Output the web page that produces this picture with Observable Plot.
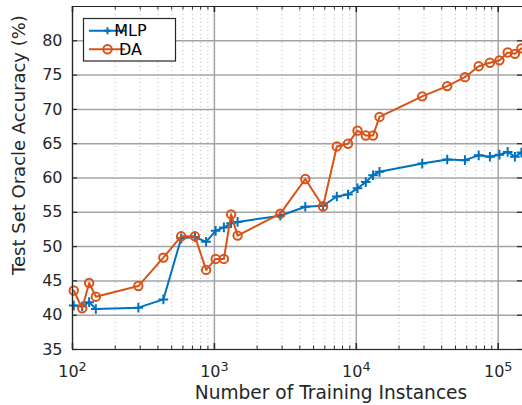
<!DOCTYPE html>
<html><head><meta charset="utf-8">
<script src="https://cdn.jsdelivr.net/npm/d3@7"></script>
<script src="https://cdn.jsdelivr.net/npm/@observablehq/plot@0.6"></script>
<style>
body{margin:0;background:#fff;}
#wrap{position:relative;width:522px;height:405px;overflow:hidden;}
</style></head><body><div id="wrap"></div>
<script>
// ---- data ----
const trainingInstances = [102,117,131,146,291,437,583,729,874,1020,1166,1311,1457,2914,4371,5828,7285,8742,10199,11656,13113,14570,29140,43710,58280,72850,87420,101990,116560,131130,145700];
const mlpAccuracy = [41.4,41.3,41.9,40.9,41.1,42.3,51.2,51.4,50.7,52.3,52.8,53.4,53.6,54.5,55.8,55.95,57.3,57.6,58.5,59.4,60.4,60.9,62.1,62.7,62.6,63.3,63.1,63.4,63.8,63.1,63.7];
const daAccuracy  = [43.6,41.0,44.7,42.7,44.25,48.4,51.5,51.5,46.6,48.2,48.2,54.7,51.6,54.8,59.85,55.85,64.6,65.0,66.9,66.2,66.2,68.9,71.9,73.4,74.7,76.3,76.8,77.15,78.3,78.1,78.9];
const seriesNames = ["MLP","DA"];
const seriesColors = ["#0072BD","#D95319"];
const yTicks = [35,40,45,50,55,60,65,70,75,80];
const xMajorTicks = [100,1000,10000,100000];
const xMinorTicks = [200,300,400,500,600,700,800,900,2000,3000,4000,5000,6000,7000,8000,9000,20000,30000,40000,50000,60000,70000,80000,90000];
const xDomain = [100, 148300];
const yDomain = [35, 85];
const xTitle = "Number of Training Instances";
const yTitle = "Test Set Oracle Accuracy (%)";

// ---- layout ----
const W = 522, H = 405;
const mT = 6, mB = 56, mL = 72, mR = 0;
const plotH = H - mT - mB;
const plotW = W - mL - mR;
const frameColor = "#262626";
const gridColor = "#a4a4a4";

const mlpRows = trainingInstances.map((n, i) => ({n, acc: mlpAccuracy[i], model: seriesNames[0]}));
const daRows  = trainingInstances.map((n, i) => ({n, acc: daAccuracy[i],  model: seriesNames[1]}));

const chart = Plot.plot({
  width: W, height: H,
  marginTop: mT, marginBottom: mB, marginLeft: mL, marginRight: mR,
  style: {fontFamily: "DejaVu Sans", fontSize: "16px", color: frameColor, background: "white", overflow: "hidden"},
  x: {type: "log", domain: xDomain},
  y: {domain: yDomain},
  marks: [
    Plot.gridX(xMinorTicks, {stroke: "#b8b8b8", strokeOpacity: 1, strokeWidth: 1, strokeDasharray: "1,3"}),
    Plot.gridX(xMajorTicks, {stroke: gridColor, strokeOpacity: 1, strokeWidth: 1.5}),
    Plot.gridY(yTicks, {stroke: gridColor, strokeOpacity: 1, strokeWidth: 1.5}),
    Plot.line(mlpRows, {x: "n", y: "acc", stroke: seriesColors[0], strokeWidth: 2}),
    Plot.dot(mlpRows, {x: "n", y: "acc", symbol: "plus", stroke: seriesColors[0], strokeWidth: 2, r: 3.2}),
    Plot.line(daRows, {x: "n", y: "acc", stroke: seriesColors[1], strokeWidth: 2}),
    Plot.dot(daRows, {x: "n", y: "acc", symbol: "circle", fill: "none", stroke: seriesColors[1], strokeWidth: 2, r: 4.2}),
    // box
    Plot.ruleX([xDomain[0]], {stroke: frameColor, strokeWidth: 1.2}),
    Plot.ruleY(yDomain, {stroke: frameColor, strokeWidth: 1.2}),
    // inward ticks
    Plot.tickX(xMajorTicks, {x: d => d, stroke: frameColor, strokeWidth: 1.5, insetTop: plotH - 6}),
    Plot.tickX(xMinorTicks, {x: d => d, stroke: frameColor, strokeWidth: 1, insetTop: plotH - 3.5}),
    Plot.tickX(xMajorTicks, {x: d => d, stroke: frameColor, strokeWidth: 1.5, insetBottom: plotH - 6}),
    Plot.tickX(xMinorTicks, {x: d => d, stroke: frameColor, strokeWidth: 1, insetBottom: plotH - 3.5}),
    Plot.tickY(yTicks, {y: d => d, stroke: frameColor, strokeWidth: 1.2, insetRight: plotW - 5}),
    Plot.tickY(yTicks, {y: d => d, stroke: frameColor, strokeWidth: 1.2, insetLeft: plotW - 5}),
    // labels
    Plot.axisY(yTicks, {tickSize: 0, tickPadding: 10, label: null, fontSize: 16}),
    Plot.axisX(xMajorTicks, {tickSize: 0, tickPadding: 16, label: null, fontSize: 16,
      tickFormat: d => "10^" + Math.round(Math.log10(d))})
  ]
});

document.getElementById("wrap").appendChild(chart);
const svg = d3.select(chart);

// superscript exponents on the x tick labels
svg.selectAll("text").each(function () {
  const t = this.textContent;
  const m = /^10\^(\d+)$/.exec(t);
  if (m) {
    const el = d3.select(this);
    el.text("10");
    el.append("tspan").attr("dy", "-0.42em").attr("font-size", "0.8em").text(m[1]);
  }
});

// axis titles
svg.append("text")
  .attr("x", 331).attr("y", 399)
  .attr("text-anchor", "middle")
  .attr("font-family", "DejaVu Sans").attr("font-size", 18.6).attr("fill", frameColor)
  .text(xTitle);
svg.append("text")
  .attr("transform", "translate(25,145) rotate(-90)")
  .attr("text-anchor", "middle")
  .attr("font-family", "DejaVu Sans").attr("font-size", 18).attr("fill", frameColor)
  .text(yTitle);

// legend
const lg = svg.append("g").attr("font-family", "DejaVu Sans").attr("font-size", 16);
lg.append("rect").attr("x", 83.5).attr("y", 18.5).attr("width", 92).attr("height", 42.5)
  .attr("fill", "white").attr("stroke", frameColor).attr("stroke-width", 1.2);
seriesNames.forEach((name, i) => {
  const y = 30.7 + i * 18.6;
  const c = seriesColors[i];
  lg.append("line").attr("x1", 89).attr("x2", 125).attr("y1", y).attr("y2", y)
    .attr("stroke", c).attr("stroke-width", 2);
  if (i === 0) {
    lg.append("path").attr("d", `M${107.5-3.5},${y}h7M107.5,${y-3.5}v7`).attr("stroke", c).attr("stroke-width", 2);
  } else {
    lg.append("circle").attr("cx", 107.5).attr("cy", y).attr("r", 4.2).attr("fill", "none")
      .attr("stroke", c).attr("stroke-width", 2);
  }
  lg.append("text").attr("x", 130.5).attr("y", y).attr("dy", "0.36em").attr("fill", "#000").text(name);
});
</script>
</body></html>
